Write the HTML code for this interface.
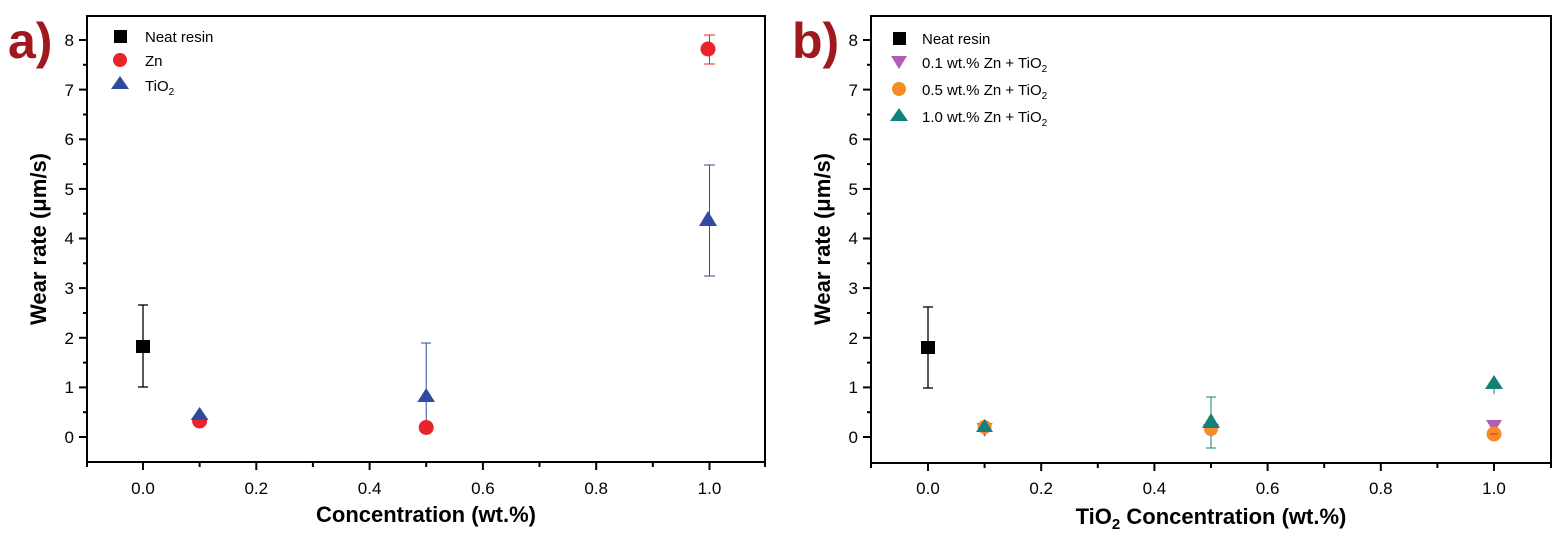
<!DOCTYPE html>
<html><head><meta charset="utf-8"><style>body{margin:0;background:#fff}svg{display:block}text{font-family:"Liberation Sans",Arial,sans-serif}</style></head><body>
<svg width="1552" height="537" viewBox="0 0 1552 537">
<!-- Panel a -->
<g>
<rect x="87" y="16" width="678" height="446" fill="none" stroke="#000" stroke-width="2"/>
<g stroke="#000" stroke-width="2">
<line x1="87" y1="437" x2="79" y2="437"/><line x1="87" y1="387.4" x2="79" y2="387.4"/><line x1="87" y1="337.8" x2="79" y2="337.8"/><line x1="87" y1="288.1" x2="79" y2="288.1"/><line x1="87" y1="238.5" x2="79" y2="238.5"/><line x1="87" y1="188.9" x2="79" y2="188.9"/><line x1="87" y1="139.3" x2="79" y2="139.3"/><line x1="87" y1="89.6" x2="79" y2="89.6"/><line x1="87" y1="40" x2="79" y2="40"/>
<line x1="87" y1="412.2" x2="83" y2="412.2"/><line x1="87" y1="362.6" x2="83" y2="362.6"/><line x1="87" y1="313" x2="83" y2="313"/><line x1="87" y1="263.3" x2="83" y2="263.3"/><line x1="87" y1="213.7" x2="83" y2="213.7"/><line x1="87" y1="164.1" x2="83" y2="164.1"/><line x1="87" y1="114.5" x2="83" y2="114.5"/><line x1="87" y1="64.8" x2="83" y2="64.8"/>
<line x1="143" y1="462" x2="143" y2="470"/><line x1="256.3" y1="462" x2="256.3" y2="470"/><line x1="369.6" y1="462" x2="369.6" y2="470"/><line x1="482.9" y1="462" x2="482.9" y2="470"/><line x1="596.2" y1="462" x2="596.2" y2="470"/><line x1="709.5" y1="462" x2="709.5" y2="470"/>
<line x1="87" y1="462" x2="87" y2="467"/><line x1="199.6" y1="462" x2="199.6" y2="467"/><line x1="312.9" y1="462" x2="312.9" y2="467"/><line x1="426.2" y1="462" x2="426.2" y2="467"/><line x1="539.5" y1="462" x2="539.5" y2="467"/><line x1="652.8" y1="462" x2="652.8" y2="467"/><line x1="765" y1="462" x2="765" y2="467"/>
</g>
<g font-size="17" text-anchor="end"><text x="74" y="443">0</text><text x="74" y="393">1</text><text x="74" y="344">2</text><text x="74" y="294">3</text><text x="74" y="244">4</text><text x="74" y="195">5</text><text x="74" y="145">6</text><text x="74" y="96">7</text><text x="74" y="46">8</text></g>
<g font-size="17" text-anchor="middle"><text x="143" y="494">0.0</text><text x="256.3" y="494">0.2</text><text x="369.6" y="494">0.4</text><text x="482.9" y="494">0.6</text><text x="596.2" y="494">0.8</text><text x="709.5" y="494">1.0</text></g>
<text x="426" y="522" font-size="22" font-weight="bold" text-anchor="middle">Concentration (wt.%)</text>
<text transform="translate(46,239) rotate(-90)" font-size="22" font-weight="bold" text-anchor="middle">Wear rate (μm/s)</text>
<text x="8" y="58" font-size="50" font-weight="bold" fill="#a0191e">a)</text>
<rect x="114" y="30" width="13" height="13" fill="#000"/><text x="145" y="42" font-size="15">Neat resin</text>
<circle cx="120" cy="60" r="7" fill="#e8232a"/><text x="145" y="66" font-size="15">Zn</text>
<polygon points="120,76 129,89 111,89" fill="#2e4ba0"/><text x="145" y="91" font-size="15">TiO<tspan font-size="10" dy="4">2</tspan></text>
<g stroke="#000" stroke-width="1.3"><line x1="143" y1="305" x2="143" y2="387"/><line x1="138" y1="305" x2="148" y2="305"/><line x1="138" y1="387" x2="148" y2="387"/></g>
<rect x="136" y="340" width="14" height="13" fill="#000"/>
<circle cx="199.6" cy="421" r="7.5" fill="#e8232a"/>
<polygon points="199.6,407 208.5,420 190.7,420" fill="#2e4ba0"/>
<g stroke="#2e4ba0" stroke-width="1"><line x1="426.2" y1="343" x2="426.2" y2="425"/><line x1="421" y1="343" x2="431" y2="343"/></g>
<circle cx="426.2" cy="427.5" r="7.5" fill="#e8232a"/>
<polygon points="426.2,388 435,402 417.4,402" fill="#2e4ba0"/>
<g stroke="#e8232a" stroke-width="1"><line x1="709.5" y1="35" x2="709.5" y2="64"/><line x1="704" y1="35" x2="715" y2="35"/><line x1="704" y1="64" x2="715" y2="64"/></g>
<circle cx="708" cy="49" r="7.5" fill="#e8232a"/>
<g stroke="#2e4ba0" stroke-width="1"><line x1="709.5" y1="165" x2="709.5" y2="276"/><line x1="704" y1="165" x2="715" y2="165"/><line x1="704" y1="276" x2="715" y2="276"/></g>
<polygon points="708,211 717,226 699,226" fill="#2e4ba0"/>
</g>
<!-- Panel b -->
<g>
<rect x="871" y="16" width="680" height="447" fill="none" stroke="#000" stroke-width="2"/>
<g stroke="#000" stroke-width="2">
<line x1="871" y1="437" x2="863" y2="437"/><line x1="871" y1="387.4" x2="863" y2="387.4"/><line x1="871" y1="337.8" x2="863" y2="337.8"/><line x1="871" y1="288.1" x2="863" y2="288.1"/><line x1="871" y1="238.5" x2="863" y2="238.5"/><line x1="871" y1="188.9" x2="863" y2="188.9"/><line x1="871" y1="139.3" x2="863" y2="139.3"/><line x1="871" y1="89.6" x2="863" y2="89.6"/><line x1="871" y1="40" x2="863" y2="40"/>
<line x1="871" y1="412.2" x2="867" y2="412.2"/><line x1="871" y1="362.6" x2="867" y2="362.6"/><line x1="871" y1="313" x2="867" y2="313"/><line x1="871" y1="263.3" x2="867" y2="263.3"/><line x1="871" y1="213.7" x2="867" y2="213.7"/><line x1="871" y1="164.1" x2="867" y2="164.1"/><line x1="871" y1="114.5" x2="867" y2="114.5"/><line x1="871" y1="64.8" x2="867" y2="64.8"/>
<line x1="928" y1="463" x2="928" y2="471"/><line x1="1041.2" y1="463" x2="1041.2" y2="471"/><line x1="1154.4" y1="463" x2="1154.4" y2="471"/><line x1="1267.6" y1="463" x2="1267.6" y2="471"/><line x1="1380.8" y1="463" x2="1380.8" y2="471"/><line x1="1494" y1="463" x2="1494" y2="471"/>
<line x1="871" y1="463" x2="871" y2="468"/><line x1="984.6" y1="463" x2="984.6" y2="468"/><line x1="1097.8" y1="463" x2="1097.8" y2="468"/><line x1="1211" y1="463" x2="1211" y2="468"/><line x1="1324.2" y1="463" x2="1324.2" y2="468"/><line x1="1437.4" y1="463" x2="1437.4" y2="468"/><line x1="1551" y1="463" x2="1551" y2="468"/>
</g>
<g font-size="17" text-anchor="end"><text x="858" y="443">0</text><text x="858" y="393">1</text><text x="858" y="344">2</text><text x="858" y="294">3</text><text x="858" y="244">4</text><text x="858" y="195">5</text><text x="858" y="145">6</text><text x="858" y="96">7</text><text x="858" y="46">8</text></g>
<g font-size="17" text-anchor="middle"><text x="928" y="494">0.0</text><text x="1041.2" y="494">0.2</text><text x="1154.4" y="494">0.4</text><text x="1267.6" y="494">0.6</text><text x="1380.8" y="494">0.8</text><text x="1494" y="494">1.0</text></g>
<text x="1211" y="524" font-size="22" font-weight="bold" text-anchor="middle">TiO<tspan font-size="15" dy="5">2</tspan><tspan dy="-5"> Concentration (wt.%)</tspan></text>
<text transform="translate(830,239) rotate(-90)" font-size="22" font-weight="bold" text-anchor="middle">Wear rate (μm/s)</text>
<text x="792" y="58" font-size="50" font-weight="bold" fill="#a0191e">b)</text>
<rect x="893" y="32" width="13" height="13" fill="#000"/><text x="922" y="44" font-size="15">Neat resin</text>
<polygon points="891,56 907,56 899,69" fill="#b45db5"/><text x="922" y="68" font-size="15">0.1 wt.% Zn + TiO<tspan font-size="10" dy="4">2</tspan></text>
<circle cx="899" cy="89" r="7" fill="#f68b28"/><text x="922" y="95" font-size="15">0.5 wt.% Zn + TiO<tspan font-size="10" dy="4">2</tspan></text>
<polygon points="899,108 908,121 890,121" fill="#12817c"/><text x="922" y="122" font-size="15">1.0 wt.% Zn + TiO<tspan font-size="10" dy="4">2</tspan></text>
<g stroke="#000" stroke-width="1.3"><line x1="928" y1="307" x2="928" y2="388"/><line x1="923" y1="307" x2="933" y2="307"/><line x1="923" y1="388" x2="933" y2="388"/></g>
<rect x="921" y="341" width="14" height="13" fill="#000"/>
<polygon points="976.6,423 992.6,423 984.6,437" fill="#b45db5"/>
<circle cx="984.6" cy="427" r="7" fill="#f68b28"/>
<polygon points="984.6,419 993,432 976,432" fill="#12817c"/>
<g stroke="#12817c" stroke-width="1"><line x1="1211" y1="397" x2="1211" y2="448"/><line x1="1206" y1="397" x2="1216" y2="397"/><line x1="1206" y1="448" x2="1216" y2="448"/></g>
<polygon points="1203,424 1219,424 1211,438" fill="#b45db5"/>
<circle cx="1211" cy="429" r="7" fill="#f68b28"/>
<polygon points="1211,413 1220,428 1202,428" fill="#12817c"/>
<polygon points="1486,420 1502,420 1494,433" fill="#b45db5"/>
<circle cx="1494" cy="434" r="7.5" fill="#f68b28"/>
<line x1="1490" y1="434" x2="1498" y2="434" stroke="#e8232a"/>
<polygon points="1494,375 1503,389 1485,389" fill="#12817c"/>
<line x1="1494" y1="389" x2="1494" y2="394" stroke="#12817c"/>
</g>
</svg>
</body></html>
